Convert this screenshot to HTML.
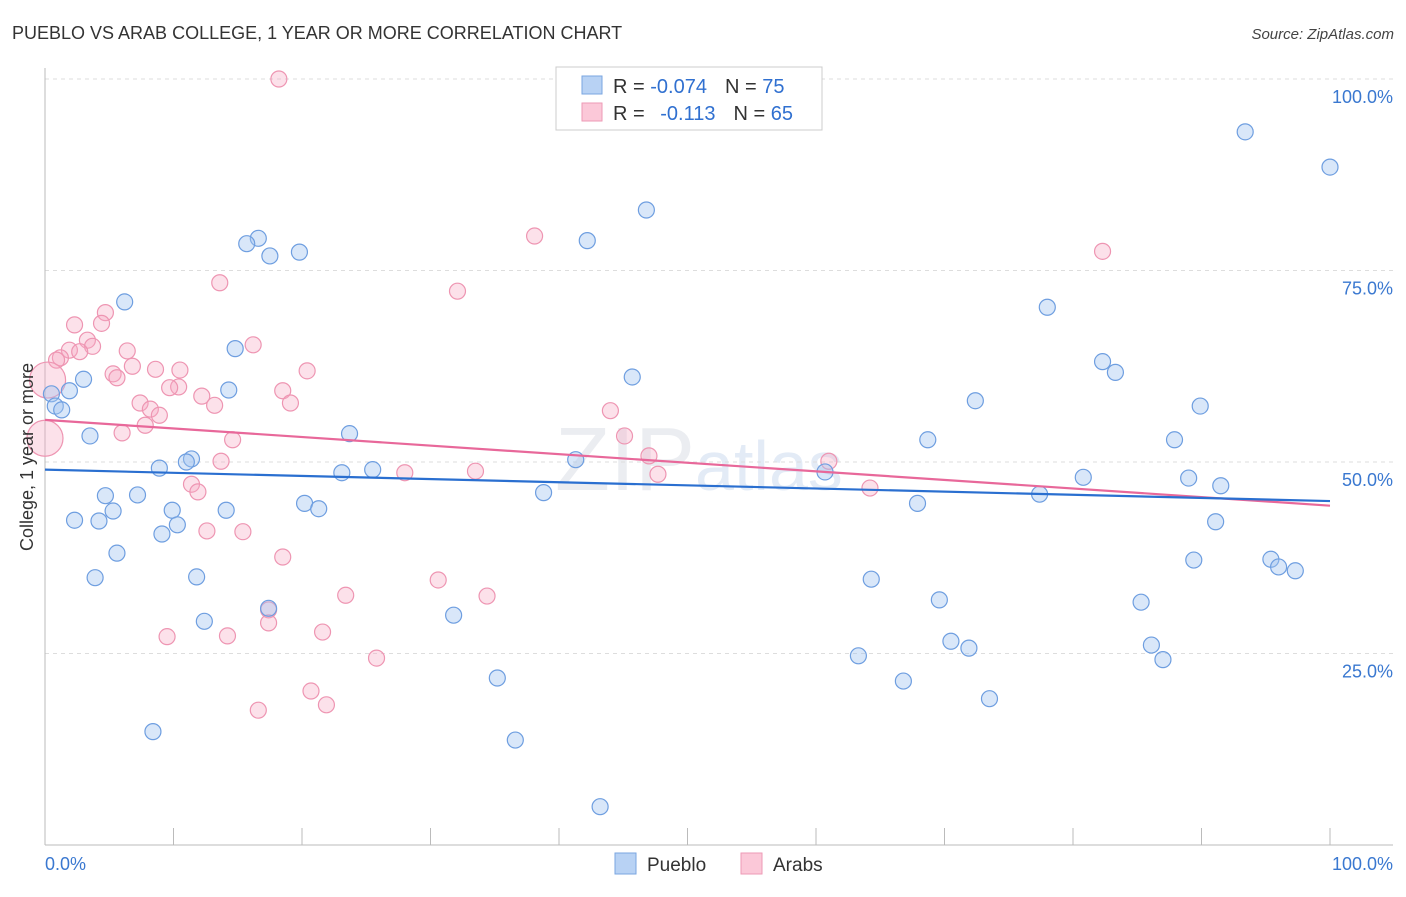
<!DOCTYPE html>
<html><head><meta charset="utf-8">
<style>
body{margin:0;background:#fff;font-family:"Liberation Sans",sans-serif;}
svg text{font-family:"Liberation Sans",sans-serif;}
</style></head>
<body>
<svg id="chart" width="1406" height="892" xmlns="http://www.w3.org/2000/svg">
<text x="12" y="39" font-size="18" fill="#333">PUEBLO VS ARAB COLLEGE, 1 YEAR OR MORE CORRELATION CHART</text>
<text x="1394" y="39" font-size="15" fill="#444" text-anchor="end" font-style="italic">Source: ZipAtlas.com</text>
<text x="555" y="490" font-size="90" fill="#d8dce4" font-family="Liberation Serif" opacity="0.5">ZIP<tspan font-size="70" fill="#c8d8ee" font-family="Liberation Sans">atlas</tspan></text>
<g id="grid"></g>
<g id="axes"></g>
<g id="pts"></g>
<g id="trend"></g>
<text transform="translate(33,457) rotate(-90)" font-size="18" fill="#333" text-anchor="middle">College, 1 year or more</text>
<g>
<rect x="556" y="67" width="266" height="63" fill="#fff" stroke="#ccc"/>
<rect x="582" y="76" width="20" height="18" fill="#b8d2f4" stroke="#7aa6e0"/>
<rect x="582" y="103" width="20" height="18" fill="#fbc8d8" stroke="#ee9ab6"/>
<text x="613" y="93" font-size="20" fill="#333">R = <tspan fill="#3070d0">-0.074</tspan><tspan dx="18">N = </tspan><tspan fill="#3070d0">75</tspan></text>
<text x="613" y="120" font-size="20" fill="#333">R = <tspan dx="10" fill="#3070d0">-0.113</tspan><tspan dx="18">N = </tspan><tspan fill="#3070d0">65</tspan></text>
</g>
<g>
<rect x="615" y="853" width="21" height="21" fill="#b8d2f4" stroke="#7aa6e0"/>
<text x="647" y="871" font-size="19" fill="#333">Pueblo</text>
<rect x="741" y="853" width="21" height="21" fill="#fbc8d8" stroke="#ee9ab6"/>
<text x="773" y="871" font-size="19" fill="#333">Arabs</text>
</g>
</svg>
<script>
const pueblaX=[93.4,100,46.8,42.2,16.6,15.7,17.5,19.8,6.2,78.0,14.8,82.3,83.3,45.7,3.0,14.3,1.9,0.5,0.8,1.3,72.4,89.9,23.7,3.5,68.7,87.9,41.3,11.4,11.0,8.9,25.5,23.1,60.7,80.8,89.0,91.5,38.8,77.4,4.7,7.2,20.2,67.9,21.3,5.3,9.9,14.1,2.3,4.2,10.3,9.1,91.1,5.6,89.4,95.4,96.0,97.3,3.9,11.8,64.3,69.6,85.3,17.4,31.8,12.4,70.5,71.9,86.1,87.0,63.3,35.2,66.8,73.5,8.4,36.6,43.2];
const puebloY=[93.1,88.5,82.9,78.9,79.2,78.5,76.9,77.4,70.9,70.2,64.8,63.1,61.7,61.1,60.8,59.4,59.3,58.9,57.3,56.8,58.0,57.3,53.7,53.4,52.9,52.9,50.3,50.4,50.0,49.2,49.0,48.6,48.7,48.0,47.9,46.9,46.0,45.8,45.6,45.7,44.6,44.6,43.9,43.6,43.7,43.7,42.4,42.3,41.8,40.6,42.2,38.1,37.2,37.3,36.3,35.8,34.9,35.0,34.7,32.0,31.7,30.9,30.0,29.2,26.6,25.7,26.1,24.2,24.7,21.8,21.4,19.1,14.8,13.7,5.0];
const arabX=[18.2,38.1,82.3,13.6,32.1,4.7,2.3,4.4,16.2,3.3,3.7,1.9,6.4,2.7,1.2,0.9,0.2,6.8,8.6,10.5,20.4,5.3,5.6,10.4,9.7,18.5,12.2,19.1,13.2,7.4,8.2,8.9,7.8,6.0,14.6,0,44.0,45.1,47.0,61.0,47.7,13.7,33.5,28.0,11.4,11.9,64.2,12.6,15.4,18.5,30.6,23.4,34.4,17.4,17.4,21.6,9.5,14.2,25.8,20.7,21.9,16.6];
const arabY=[100,79.5,77.5,73.4,72.3,69.5,67.9,68.1,65.3,65.9,65.1,64.6,64.5,64.4,63.6,63.3,60.7,62.5,62.1,62.0,61.9,61.5,61.0,59.8,59.7,59.3,58.6,57.7,57.4,57.7,56.9,56.1,54.8,53.8,52.9,53.1,56.7,53.4,50.8,50.1,48.4,50.1,48.8,48.6,47.1,46.1,46.6,41.0,40.9,37.6,34.6,32.6,32.5,30.7,29.0,27.8,27.2,27.3,24.4,20.1,18.3,17.6];
const arabBig=[16,35];
const puebloTrend=[49.0,44.9];
const arabTrend=[55.5,44.3];
const yTicks=[25,50,75,100];
const yTickLabels=["25.0%","50.0%","75.0%","100.0%"];
const xTicks=[0,10,20,30,40,50,60,70,80,90,100];

const NS="http://www.w3.org/2000/svg";
const X=v=>45+v*12.85;
const Y=v=>845-v*7.66;
function mk(tag,attrs,parent){const e=document.createElementNS(NS,tag);for(const k in attrs)e.setAttribute(k,attrs[k]);parent.appendChild(e);return e;}
const grid=document.getElementById('grid'),axes=document.getElementById('axes'),pts=document.getElementById('pts'),trend=document.getElementById('trend');
yTicks.forEach((t,i)=>{
 const l=mk('line',{x1:45,x2:1393,y1:Y(t),y2:Y(t),stroke:'#ddd','stroke-dasharray':'4,4'},grid);
 
 
 const tx=mk('text',{x:1393,y:Y(t)+24,'font-size':18,fill:'#3a78d0','text-anchor':'end'},grid);
 tx.textContent=yTickLabels[i];
 
 
});
const ax=mk('line',{x1:45,x2:1393,y1:845,y2:845,stroke:'#bbb'},axes);


const ay=mk('line',{x1:45,x2:45,y1:68,y2:845,stroke:'#bbb'},axes);


xTicks.forEach(t=>{
 const l=mk('line',{x1:X(t),x2:X(t),y1:828,y2:845,stroke:'#bbb'},axes);
 
 
});
const xl0=mk('text',{x:45,y:870,'font-size':18,fill:'#3a78d0'},axes);xl0.textContent='0.0%';


const xl1=mk('text',{x:1393,y:870,'font-size':18,fill:'#3a78d0','text-anchor':'end'},axes);xl1.textContent='100.0%';


arabX.forEach((v,i)=>{
 const big=arabBig.includes(i);
 const c=mk('circle',{cx:X(v),cy:Y(arabY[i]),r:big?18:8,fill:'rgba(246,170,196,0.35)',stroke:'#ee95b2','stroke-width':1.2},pts);
 
 
});
pueblaX.forEach((v,i)=>{
 const c=mk('circle',{cx:X(v),cy:Y(puebloY[i]),r:8,fill:'rgba(160,196,240,0.4)',stroke:'#6e9ee0','stroke-width':1.2},pts);
 
 
});
const tp=mk('line',{x1:X(0),x2:X(100),y1:Y(arabTrend[0]),y2:Y(arabTrend[1]),stroke:'#e8689a','stroke-width':2.2},trend);


const tb=mk('line',{x1:X(0),x2:X(100),y1:Y(puebloTrend[0]),y2:Y(puebloTrend[1]),stroke:'#2a6fd0','stroke-width':2.2},trend);


</script>
</body></html>
